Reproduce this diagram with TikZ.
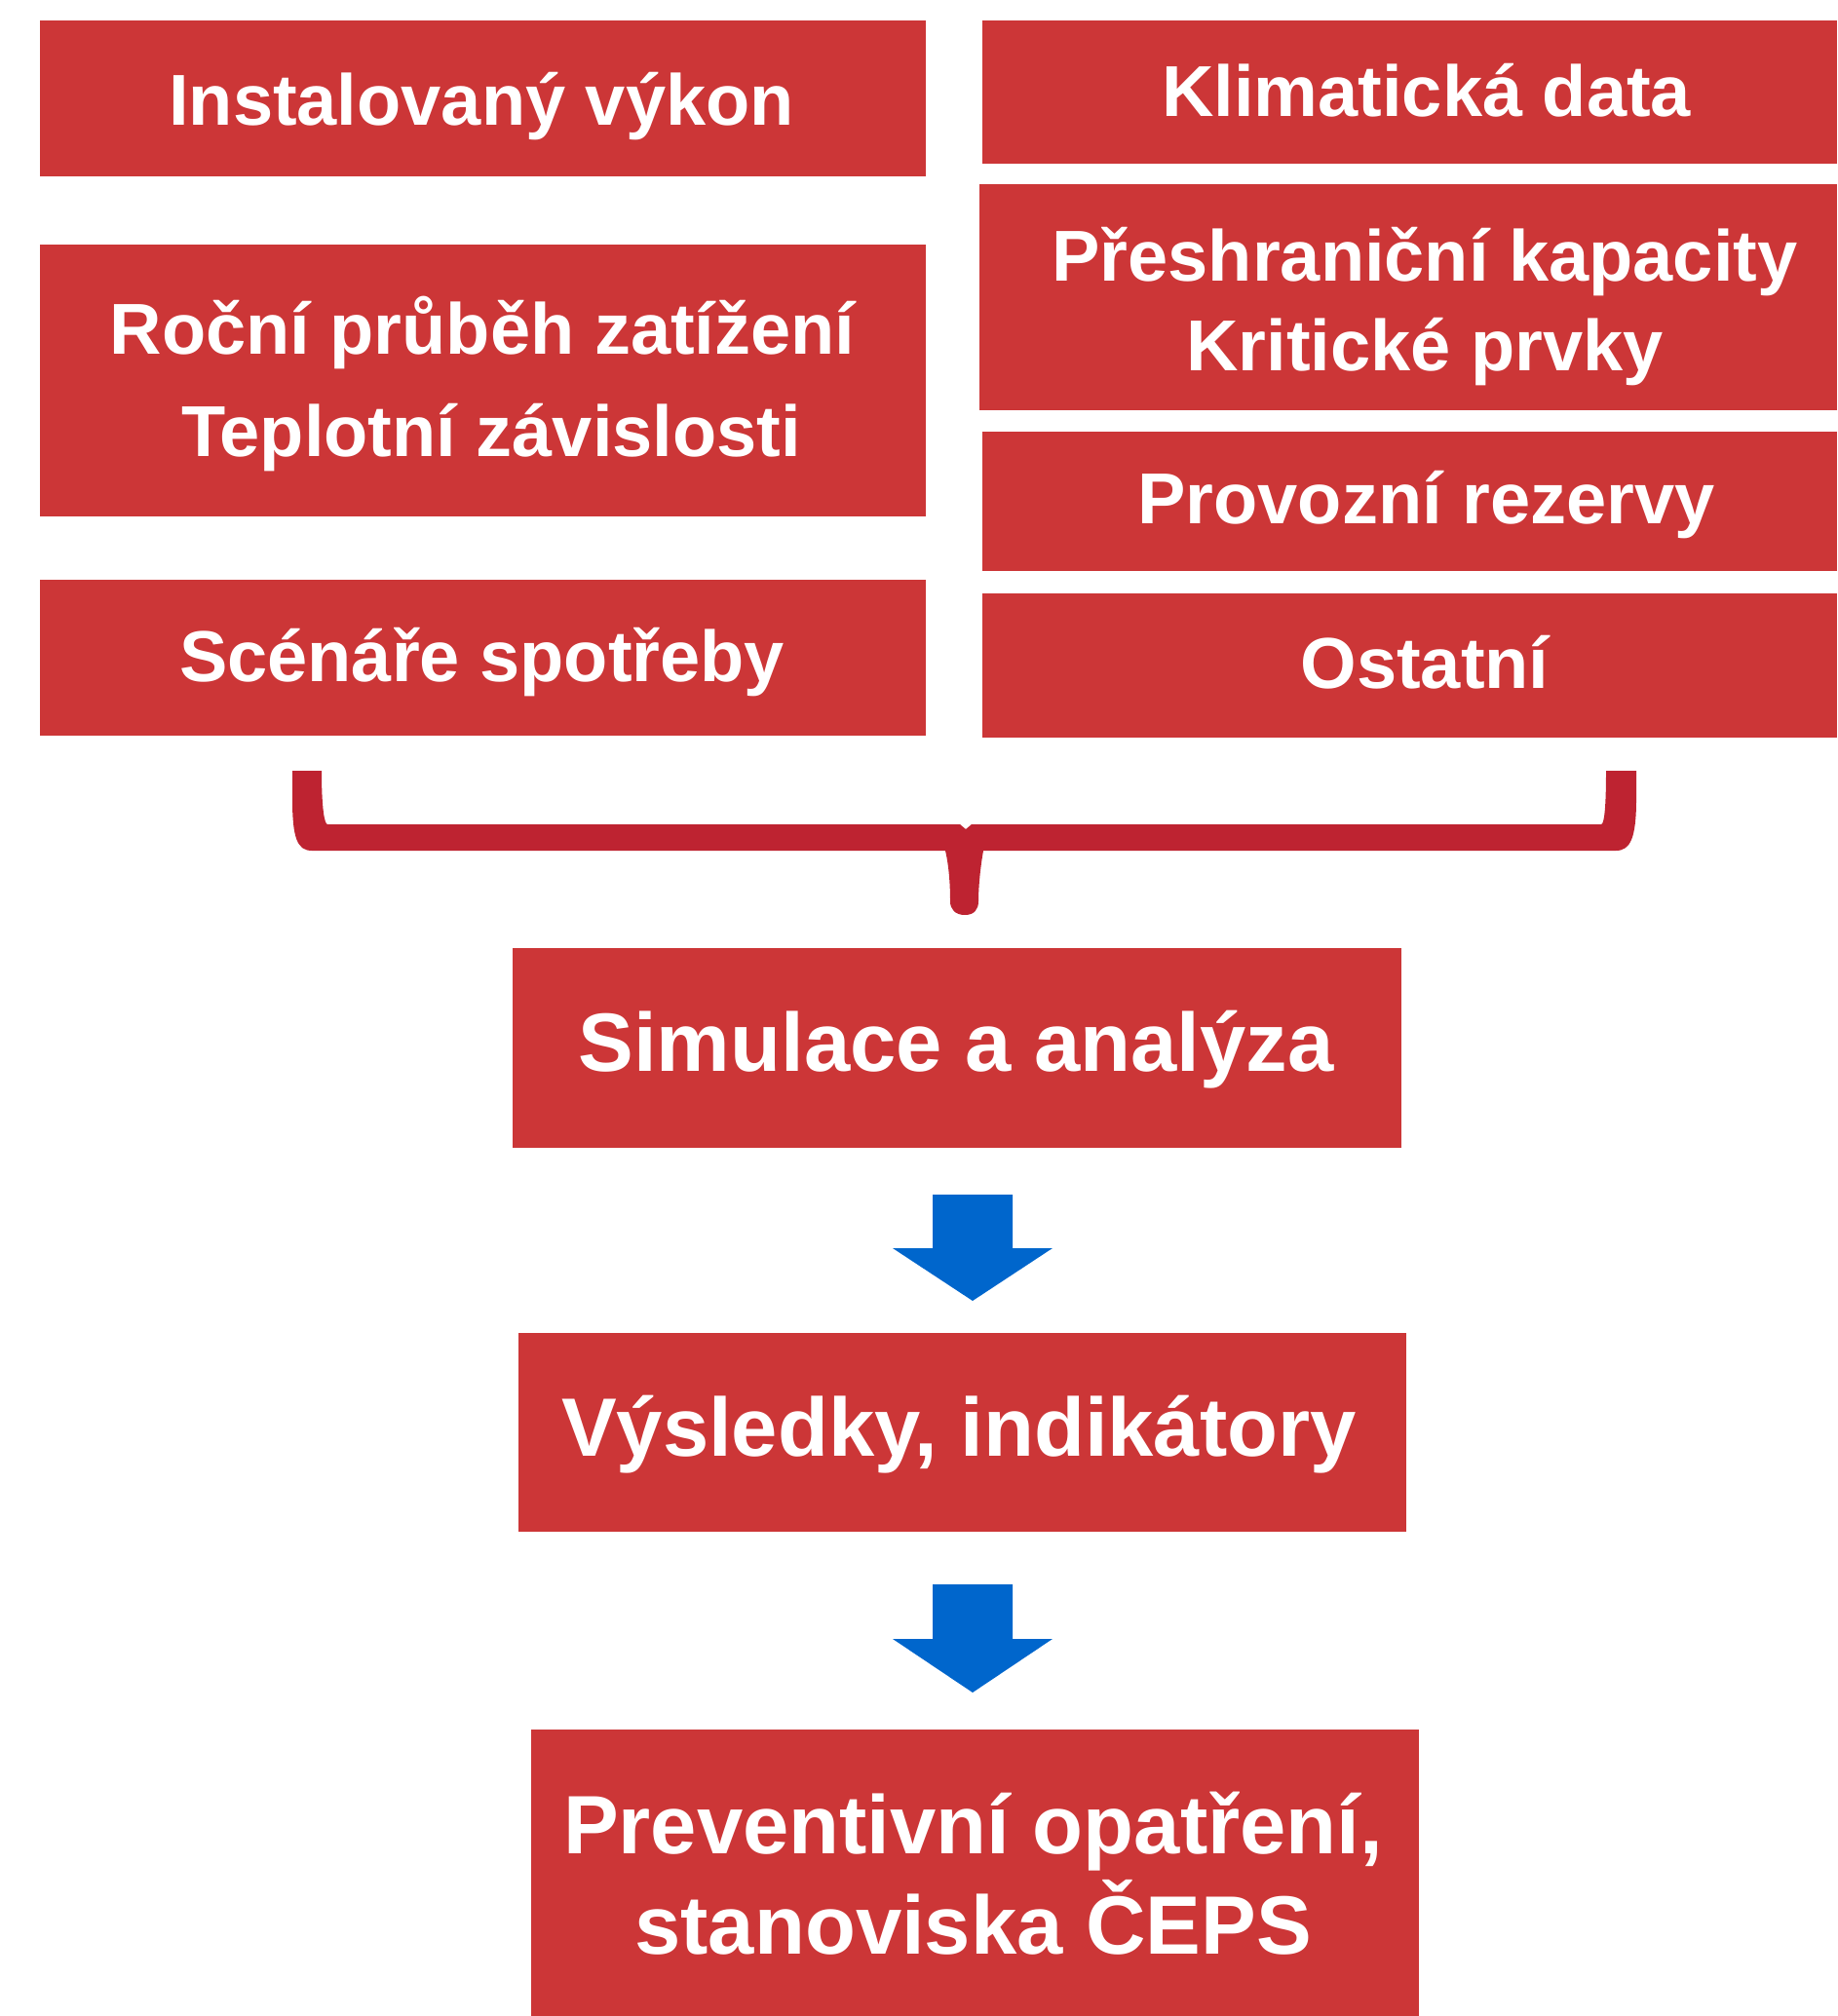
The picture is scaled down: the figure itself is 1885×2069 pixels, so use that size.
\documentclass[tikz,border=0pt]{standalone}
\usepackage{fontspec}
\setmainfont{Liberation Sans}
\definecolor{boxred}{RGB}{204,54,55}
\definecolor{bracered}{RGB}{190,35,49}
\definecolor{arrowblue}{RGB}{0,102,204}
\begin{document}
\begin{tikzpicture}[x=1pt,y=-1pt,
  box/.style={fill=boxred,draw=none,inner sep=0pt,outer sep=0pt,rectangle},
  txtA/.style={text=white,inner sep=0pt,anchor=base,font=\fontsize{74}{90}\selectfont\bfseries},
  txtB/.style={text=white,inner sep=0pt,anchor=base,font=\fontsize{85}{103}\selectfont\bfseries},
  bluearrow/.style={fill=arrowblue,draw=none},
  brace/.style={fill=bracered,draw=none}]
\useasboundingbox (0,0) rectangle (1885,2069);
% left column
\node[box,minimum width=909pt,minimum height=160pt] (l1) at (495.5,101) {};
\node[box,minimum width=909pt,minimum height=279pt] (l2) at (495.5,390.5) {};
\node[box,minimum width=909pt,minimum height=160pt] (l3) at (495.5,675) {};
% right column
\node[box,minimum width=877pt,minimum height=147pt] (r1) at (1446.5,94.5) {};
\node[box,minimum width=880pt,minimum height=232pt] (r2) at (1445,305) {};
\node[box,minimum width=877pt,minimum height=143pt] (r3) at (1446.5,514.5) {};
\node[box,minimum width=877pt,minimum height=148pt] (r4) at (1446.5,683) {};
% lower boxes
\node[box,minimum width=912pt,minimum height=205pt] (sim) at (982,1075.5) {};
\node[box,minimum width=911pt,minimum height=204pt] (res) at (987.5,1470) {};
\node[box,minimum width=911pt,minimum height=294pt] (prev) at (1000.5,1922) {};
% texts
\node[txtA] (tl1) at (494,128) {Instalovaný výkon};
\node[txtA] (tl2a) at (495,363) {Roční průběh zatížení};
\node[txtA] (tl2b) at (504,468) {Teplotní závislosti};
\node[txtA] (tl3) at (494.6,699) {Scénáře spotřeby};
\node[txtA] (tr1) at (1463.6,119) {Klimatická data};
\node[txtA] (tr2a) at (1462,288) {Přeshraniční kapacity};
\node[txtA] (tr2b) at (1462,380) {Kritické prvky};
\node[txtA] (tr3) at (1463.5,537) {Provozní rezervy};
\node[txtA] (tr4) at (1462,706) {Ostatní};
\node[txtB] (tsim) at (981,1099) {Simulace a analýza};
\node[txtB] (tres) at (984,1494) {Výsledky, indikátory};
\node[txtB] (tprevA) at (998.6,1902) {Preventivní opatření,};
\node[txtB] (tprevB) at (998.6,2005) {stanoviska ČEPS};
% brace
\fill[brace] (300,791) -- (300,820) .. controls (300,860) and (305,873) .. (320,873)
  -- (970,873) .. controls (974,890) and (975,910) .. (975,925)
  .. controls (975,933) and (980,939) .. (990,939)
  .. controls (1000,939) and (1004,933) .. (1004,925)
  .. controls (1004,910) and (1006,890) .. (1009,873)
  -- (1658,873) .. controls (1673,873) and (1679,860) .. (1679,820)
  -- (1679,791) -- (1648,791) .. controls (1648,830) and (1646,846) .. (1643,846)
  -- (997,846) -- (991,851) -- (985,846) -- (336,846)
  .. controls (333,846) and (330,830) .. (330,791) -- cycle;
% arrows
\fill[bluearrow] (957,1226) -- (1039,1226) -- (1039,1281) -- (1080,1281) -- (998,1335) -- (916,1281) -- (957,1281) -- cycle;
\fill[bluearrow] (957,1626) -- (1039,1626) -- (1039,1682) -- (1080,1682) -- (998,1737) -- (916,1682) -- (957,1682) -- cycle;
\end{tikzpicture}
\end{document}
